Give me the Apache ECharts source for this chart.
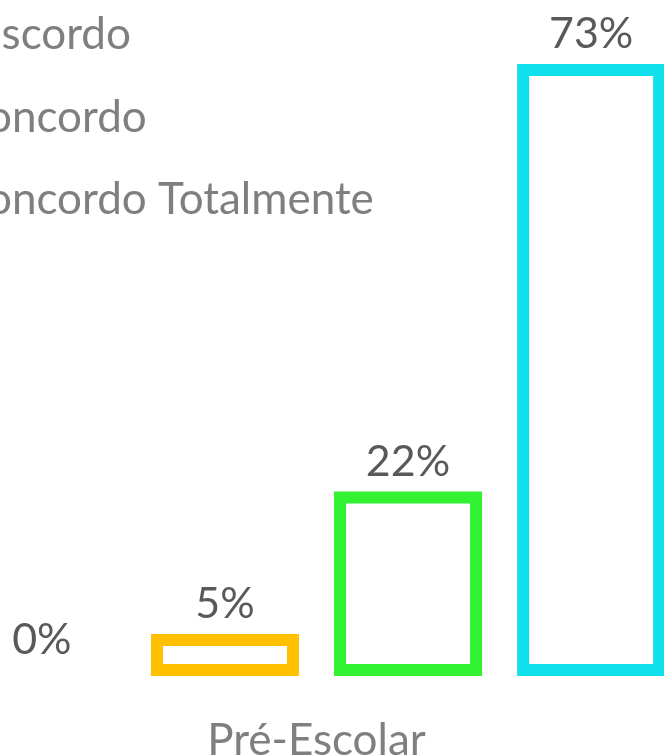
<!DOCTYPE html>
<html>
<head>
<meta charset="utf-8">
<script src="https://cdn.jsdelivr.net/npm/echarts@6/dist/echarts.min.js"></script>
<style>
  html, body { margin: 0; padding: 0; background: #fff; }
  #chart { width: 664px; height: 756px; }
</style>
</head>
<body>
<div id="chart"></div>
<script>
// data
const categories = ["Pré-Escolar"];
const seriesNames = ["Discordo Totalmente", "Discordo", "Concordo", "Concordo Totalmente"];
const discordoTotalmente = [0];
const discordo = [5];
const concordo = [22];
const concordoTotalmente = [73];

const colors = ["#FF0000", "#FFC000", "#33F233", "#10E0EC"];
const values = [discordoTotalmente, discordo, concordo, concordoTotalmente];

const chart = echarts.init(document.getElementById("chart"));

function makeSeries(i) {
  const empty = values[i][0] === 0;
  return {
    name: seriesNames[i],
    type: "bar",
    data: values[i],
    barWidth: 148,
    barGap: "23.7%",
    clip: false,
    itemStyle: {
      color: "#ffffff",
      borderColor: colors[i],
      // a 0% bar shows no outline in the original
      borderWidth: empty ? 0 : 12
    },
    label: {
      show: true,
      position: "top",
      distance: empty ? 14 : 8,
      formatter: "{c}%",
      color: "#595959",
      fontFamily: "Lato",
      fontSize: 43
    }
  };
}

chart.setOption({
  animation: false,
  color: colors,
  grid: {
    left: -40,
    right: -9,
    top: 64,
    bottom: 80,
    outerBoundsMode: "none",
    containLabel: false
  },
  legend: {
    orient: "vertical",
    left: -73,
    top: -72.5,
    padding: 0,
    itemWidth: 25,
    itemHeight: 14,
    itemGap: 32.5,
    data: seriesNames,
    textStyle: {
      color: "#7f7f7f",
      fontFamily: "Lato",
      fontSize: 44,
      lineHeight: 50
    }
  },
  xAxis: {
    type: "category",
    data: categories,
    axisLine: { show: false },
    axisTick: { show: false },
    axisLabel: {
      color: "#7f7f7f",
      fontFamily: "Lato",
      fontSize: 44,
      margin: 43
    }
  },
  yAxis: {
    type: "value",
    min: 0,
    max: 73,
    show: false,
    splitLine: { show: false }
  },
  series: [0, 1, 2, 3].map(makeSeries)
});
</script>
</body>
</html>
